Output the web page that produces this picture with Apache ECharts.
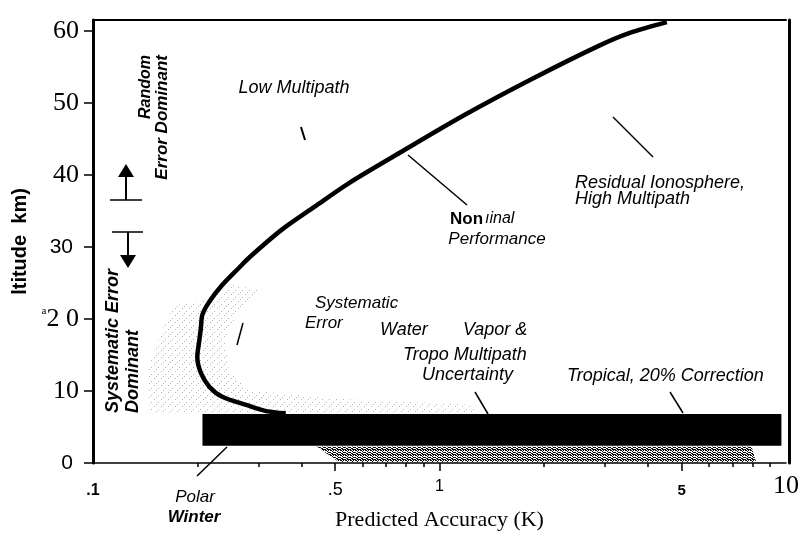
<!DOCTYPE html>
<html><head><meta charset="utf-8">
<script src="https://cdn.jsdelivr.net/npm/echarts@6/dist/echarts.min.js"></script>
<style>html,body{margin:0;padding:0;background:#fff}#c{width:802px;height:536px}</style>
</head><body><div id="c"></div>
<script>
// ---- data ----
const curveX = [4.53, 3.54, 2.85, 1.83, 1.18, 0.770, 0.5497, 0.4365, 0.3508, 0.282, 0.264, 0.236, 0.2166, 0.2069, 0.2048, 0.2028, 0.2000, 0.2048, 0.2166, 0.236, 0.2766, 0.316, 0.360];
const curveY = [61.2, 59.7, 57.8, 53.2, 48.3, 43.1, 38.9, 35.6, 32.4, 28.5, 27.1, 24.7, 22.4, 20.6, 18.75, 17.1, 14.7, 12.5, 10.6, 9.2, 8.06, 7.2, 6.9];
const tropicalBand = [0.207, 9.7, 2.4, 6.8]; // xFrom, xTo, yFrom, yTo
const lightStippleX = [0.172, 0.156, 0.144, 0.146, 1.29, 1.23, 0.479, 0.282, 0.247, 0.24, 0.264, 0.30, 0.255, 0.21];
const lightStippleY = [21.9, 17.8, 12.9, 6.9, 6.9, 8.1, 9.0, 10.1, 12.9, 17.1, 21.25, 24.0, 24.7, 22.6];
const darkStippleX = [0.442, 0.512, 8.2, 7.95];
const darkStippleY = [2.3, 0.15, 0.15, 2.3];
const xLabelValues = [0.1, 0.5, 1, 5, 10];
const xMajorTicks = [0.5, 1, 5];
const xMinorTicks = [0.2, 0.3, 0.4, 0.6, 0.7, 0.8, 0.9, 2, 3, 4, 6, 7, 8, 9];
const yTickValues = [0, 10, 20, 30, 40, 50, 60];

function makePattern(size, dots, color) {
  const cv = document.createElement('canvas');
  cv.width = size; cv.height = size;
  const ctx = cv.getContext('2d');
  ctx.fillStyle = color;
  dots.forEach(d => ctx.fillRect(d[0], d[1], 1, 1));
  return { image: cv, repeat: 'repeat' };
}
const lightPattern = makePattern(7, [[0,0],[4,3],[2,5]], '#b4b4b4');
const darkPattern = makePattern(5, [[0,0],[1,0],[2,1],[0,2],[3,2],[4,2],[1,3],[2,3],[3,0],[4,4],[0,4],[2,4],[3,4]], '#111');

const serif = "'Liberation Serif','Times New Roman',serif";
const sans = "'Liberation Sans',Arial,sans-serif";

function polySeries(xs, ys, fill, z) {
  return {
    type: 'custom', z: z, silent: true,
    data: [0],
    renderItem: function (params, api) {
      const pts = xs.map((x, i) => api.coord([x, ys[i]]));
      return { type: 'polygon', shape: { points: pts }, style: { fill: fill } };
    }
  };
}

const chart = echarts.init(document.getElementById('c'), null, { renderer: 'canvas' });

const textItems = [];
function txt(t, x, y, opt) {
  opt = opt || {};
  textItems.push({
    type: 'text', x: x, y: y, rotation: opt.rot || 0, z: 100,
    style: {
      text: t, fill: '#000',
      fontFamily: sans, fontSize: opt.size || 18,
      fontStyle: opt.style === undefined ? 'italic' : opt.style,
      fontWeight: opt.weight || 'normal',
      align: opt.align || 'left', verticalAlign: 'middle'
    }
  });
}
function ln(x1, y1, x2, y2, w) {
  textItems.push({ type: 'line', z: 100, shape: { x1, y1, x2, y2 }, style: { stroke: '#000', lineWidth: w || 1.5 } });
}
function tri(pts) {
  textItems.push({ type: 'polygon', z: 100, shape: { points: pts }, style: { fill: '#000' } });
}

txt('Low Multipath', 294, 88, { align: 'center' });
ln(301, 127, 305, 140, 2);
txt('Random', 146, 55, { rot: Math.PI / 2, align: 'right', size: 16, weight: 'bold' });
txt('Error Dominant', 162, 55, { rot: Math.PI / 2, align: 'right', size: 17, weight: 'bold' });
ln(110, 200, 142, 200, 1.5); ln(126, 200, 126, 174, 2); tri([[126, 164], [118, 177], [134, 177]]);
ln(112, 232, 143, 232, 1.5); ln(128, 232, 128, 258, 2); tri([[128, 268], [120, 255], [136, 255]]);
txt('Systematic Error', 113, 413, { rot: Math.PI / 2, align: 'left', size: 18, weight: 'bold' });
txt('Dominant', 133, 413, { rot: Math.PI / 2, align: 'left', size: 18, weight: 'bold' });
txt('Non', 450, 219, { style: 'normal', weight: 'bold', size: 17 });
txt('ıinal', 485, 219, { size: 16 });
txt('Performance', 497, 239, { align: 'center', size: 17 });
ln(408, 155, 467, 205, 1.5);
txt('Residual Ionosphere,', 575, 183, { size: 18 });
txt('High Multipath', 575, 199, { size: 18 });
ln(613, 117, 653, 157, 1.5);
txt('Systematic', 315, 303, { size: 17 });
txt('Error', 305, 323, { size: 17 });
ln(243, 323, 237, 345, 1.5);
txt('Water', 380, 330, { size: 18 });
txt('Vapor &', 463, 330, { size: 18 });
txt('Tropo Multipath', 403, 355, { size: 18 });
txt('Uncertainty', 422, 375, { size: 18 });
ln(475, 392, 488, 414, 1.5);
txt('Tropical, 20% Correction', 567, 376, { size: 18 });
ln(670, 392, 683, 413, 1.5);
txt('Polar', 195, 497, { align: 'center', size: 17 });
txt('Winter', 194, 517, { align: 'center', size: 17, weight: 'bold' });
ln(197, 476, 227, 447, 1.5);

const xRich = {
  a: { fontFamily: sans, fontWeight: 'bold', fontSize: 16, color: '#000', padding: [4, 0, 0, 0] },
  b: { fontFamily: sans, fontSize: 18, color: '#000', padding: [2, 0, 0, 0] },
  c: { fontFamily: sans, fontSize: 16, color: '#000' },
  d: { fontFamily: sans, fontWeight: 'bold', fontSize: 15, color: '#000', padding: [4, 0, 0, 0] },
  e: { fontFamily: serif, fontSize: 26, color: '#000', padding: [-6, 0, 0, 0] }
};
const yRich = {
  t: { fontFamily: serif, fontSize: 26, color: '#000' },
  s: { fontFamily: sans, fontSize: 21, color: '#000', padding: [0, 6, 0, 0] },
  sup: { fontFamily: serif, fontSize: 11, color: '#000', verticalAlign: 'top', padding: [0, 0, 14, 0] }
};

chart.setOption({
  animation: false,
  backgroundColor: '#fff',
  grid: { left: 93, right: 12, top: 20, bottom: 73 },
  xAxis: [
    {
      type: 'log', logBase: 10, min: 0.1, max: 10, position: 'bottom',
      name: 'Predicted Accuracy (K)', nameLocation: 'middle', nameGap: 46,
      nameTextStyle: { fontFamily: serif, fontSize: 22, color: '#000' },
      axisLine: { lineStyle: { color: '#000', width: 1.5 } },
      axisTick: { customValues: xMajorTicks, length: 8, lineStyle: { color: '#000', width: 1.5 } },
      axisLabel: {
        customValues: xLabelValues, margin: 16,
        formatter: function (v) {
          const k = Math.round(v * 10);
          return ({ 1: '{a|.1}', 5: '{b|.5}', 10: '{c|1}', 50: '{d|5}', 100: '{e|10}' })[k] || '';
        },
        rich: xRich
      },
      splitLine: { show: false }, minorSplitLine: { show: false }
    },
    {
      type: 'log', logBase: 10, min: 0.1, max: 10, position: 'bottom', offset: 0,
      axisLine: { show: false },
      axisTick: { customValues: xMinorTicks, length: 4, lineStyle: { color: '#000', width: 1.5 } },
      axisLabel: { show: false }, splitLine: { show: false }
    },
    {
      type: 'log', logBase: 10, min: 0.1, max: 10, position: 'top',
      axisLine: { lineStyle: { color: '#000', width: 2 } },
      axisTick: { show: false }, axisLabel: { show: false }, splitLine: { show: false }
    }
  ],
  yAxis: [
    {
      type: 'value', min: 0, max: 61.5, position: 'left',
      name: 'ltitude  km)', nameLocation: 'middle', nameRotate: 90, nameGap: 60,
      nameTextStyle: { fontFamily: sans, fontWeight: 'bold', fontSize: 20, color: '#000' },
      axisLine: { lineStyle: { color: '#000', width: 3 } },
      axisTick: { customValues: yTickValues, length: 9, lineStyle: { color: '#000', width: 1.5 } },
      axisLabel: {
        customValues: yTickValues, margin: 14,
        formatter: function (v) {
          if (v === 30 || v === 0) return '{s|' + v + '}';
          if (v === 20) return '{sup|a}{t|2 0}';
          return '{t|' + v + '}';
        },
        rich: yRich
      },
      splitLine: { show: false }
    },
    {
      type: 'value', min: 0, max: 61.5, position: 'right', offset: 3,
      axisLine: { show: true, lineStyle: { color: '#000', width: 3 } },
      axisTick: { show: false }, axisLabel: { show: false }, splitLine: { show: false }
    }
  ],
  series: [
    polySeries(lightStippleX, lightStippleY, lightPattern, 1),
    polySeries(darkStippleX, darkStippleY, darkPattern, 1),
    {
      type: 'custom', z: 3, silent: true, data: [0],
      renderItem: function (params, api) {
        const p0 = api.coord([tropicalBand[0], tropicalBand[3]]);
        const p1 = api.coord([tropicalBand[1], tropicalBand[2]]);
        return { type: 'rect', shape: { x: p0[0], y: p0[1], width: p1[0] - p0[0], height: p1[1] - p0[1] }, style: { fill: '#000' } };
      }
    },
    {
      type: 'line', z: 5, smooth: 0.3, symbol: 'none',
      data: curveX.map((x, i) => [x, curveY[i]]),
      lineStyle: { color: '#000', width: 4.5 }
    }
  ],
  graphic: textItems
});
</script>
</body></html>
